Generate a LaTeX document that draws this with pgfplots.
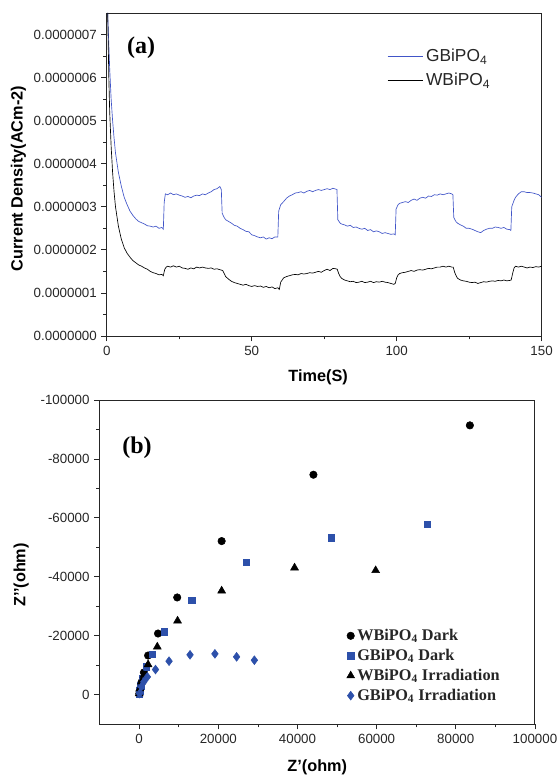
\documentclass[border=0pt]{standalone}
\usepackage{fontspec}
\setmainfont{Liberation Serif}
\setsansfont{Liberation Sans}
\usepackage{pgfplots}
\pgfplotsset{compat=1.18}
\definecolor{lineblue}{RGB}{65,85,200}
\definecolor{markblue}{RGB}{45,80,170}
\begin{document}
\begin{tikzpicture}
\useasboundingbox (0,0) rectangle (418.5pt,582.75pt);
\pgfplotsset{
  every axis/.append style={
    scale only axis,
    axis line style={line width=0.7pt, black!85},
    tick pos=left, tick align=outside,
    major tick length=4pt, minor tick length=2.5pt,
    every tick/.style={black!85, line width=0.6pt},
    tick label style={font=\sffamily\fontsize{10}{12}\selectfont, black!85},
    /pgf/number format/assume math mode=true,
    label style={font=\sffamily\bfseries\fontsize{12.2}{14}\selectfont},
  }
}
% ---------- panel (a)
\begin{axis}[
  at={(80.1pt,330.75pt)}, anchor=south west,
  width=326.1pt, height=242.25pt,
  xmin=0, xmax=150, ymin=0, ymax=7.5e-7,
  xtick={0,50,100,150}, minor x tick num=1,
  ytick={0,1e-7,2e-7,3e-7,4e-7,5e-7,6e-7,7e-7},
  yticklabels={0.0000000,0.0000001,0.0000002,0.0000003,0.0000004,0.0000005,0.0000006,0.0000007},
  scaled y ticks=false,
  minor y tick num=1,
  xlabel={Time(S)}, ylabel={Current Density(ACm-2)},
  xlabel style={at={(axis description cs:0.486,-0.127)}, anchor=center},
  ylabel style={at={(axis description cs:-0.203,0.487)}, anchor=center, rotate=0},
  legend style={draw=none, fill=none, at={(axis description cs:0.635,0.905)}, anchor=north west,
    font=\sffamily\fontsize{13}{15}\selectfont, row sep=3pt, text=black!85},
  legend cell align=left,
  legend image code/.code={\draw[#1] (0pt,0pt) -- (26.7pt,0pt);},
  clip=true,
]
\addplot[lineblue, line width=0.5pt] table {
t y
0.3 7.5e-7
1 6.2e-7
1.5 5.5e-7
2 5.0e-7
2.5 4.6e-7
3 4.25e-7
4 3.8e-7
5 3.48e-7
6 3.22e-7
7 3.05e-7
8 2.9e-7
9 2.8e-7
10 2.72e-7
11 2.66e-7
12 2.63e-7
13 2.6e-7
14 2.56e-7
15 2.55e-7
16 2.53e-7
17 2.55e-7
18 2.5e-7
19 2.52e-7
19.5 2.48e-7
19.8 3.1e-7
20.2 3.3e-7
21 3.28e-7
22 3.32e-7
23 3.28e-7
24 3.3e-7
25 3.27e-7
26 3.25e-7
27 3.22e-7
28 3.24e-7
29 3.21e-7
30 3.25e-7
31 3.27e-7
32 3.26e-7
33 3.3e-7
34 3.28e-7
35 3.32e-7
36 3.35e-7
37 3.4e-7
38 3.42e-7
39 3.47e-7
39.5 3.4e-7
39.8 2.85e-7
40.5 2.75e-7
41 2.7e-7
42 2.66e-7
43 2.62e-7
44 2.57e-7
45 2.55e-7
46 2.5e-7
47 2.47e-7
48 2.43e-7
49 2.42e-7
50 2.35e-7
51 2.33e-7
52 2.3e-7
53 2.28e-7
54 2.3e-7
55 2.25e-7
56 2.28e-7
57 2.26e-7
58 2.3e-7
59 2.3e-7
59.3 2.9e-7
60 3.05e-7
61 3.12e-7
62 3.2e-7
63 3.25e-7
64 3.28e-7
65 3.32e-7
66 3.33e-7
67 3.35e-7
68 3.32e-7
69 3.36e-7
70 3.38e-7
71 3.35e-7
72 3.38e-7
73 3.4e-7
74 3.38e-7
75 3.4e-7
76 3.42e-7
77 3.4e-7
78 3.43e-7
79 3.41e-7
79.4 3.4e-7
79.7 2.7e-7
80.5 2.62e-7
81 2.6e-7
82 2.58e-7
83 2.55e-7
84 2.57e-7
85 2.52e-7
86 2.53e-7
87 2.5e-7
88 2.48e-7
89 2.5e-7
90 2.45e-7
91 2.47e-7
92 2.42e-7
93 2.44e-7
94 2.42e-7
95 2.38e-7
96 2.4e-7
97 2.38e-7
98 2.36e-7
99 2.37e-7
99.5 2.35e-7
99.8 2.95e-7
100.5 3.05e-7
101 3.08e-7
102 3.1e-7
103 3.12e-7
104 3.1e-7
105 3.15e-7
106 3.18e-7
107 3.15e-7
108 3.2e-7
109 3.22e-7
110 3.2e-7
111 3.25e-7
112 3.24e-7
113 3.28e-7
114 3.27e-7
115 3.3e-7
116 3.28e-7
117 3.3e-7
118 3.32e-7
119 3.3e-7
119.4 3.28e-7
119.7 2.75e-7
120.5 2.65e-7
121 2.62e-7
122 2.58e-7
123 2.55e-7
124 2.5e-7
125 2.5e-7
126 2.48e-7
127 2.45e-7
128 2.42e-7
129 2.4e-7
130 2.45e-7
131 2.48e-7
132 2.5e-7
133 2.5e-7
134 2.53e-7
135 2.52e-7
136 2.5e-7
137 2.52e-7
138 2.48e-7
139 2.47e-7
139.4 2.45e-7
139.7 3.0e-7
140.5 3.15e-7
141 3.22e-7
142 3.3e-7
143 3.35e-7
144 3.35e-7
145 3.33e-7
146 3.33e-7
147 3.32e-7
148 3.3e-7
149 3.28e-7
150 3.22e-7
};
\addlegendentry{GBiPO\textsubscript{4}}
\addplot[black, line width=0.5pt] table {
t y
0.3 7.5e-7
0.7 6.0e-7
1 5.2e-7
1.5 4.4e-7
2 3.8e-7
2.5 3.35e-7
3 3.0e-7
4 2.55e-7
5 2.25e-7
6 2.05e-7
7 1.92e-7
8 1.83e-7
9 1.75e-7
10 1.7e-7
11 1.65e-7
12 1.62e-7
13 1.58e-7
14 1.55e-7
15 1.5e-7
16 1.47e-7
17 1.45e-7
18 1.42e-7
19 1.43e-7
19.5 1.4e-7
20 1.55e-7
20.5 1.6e-7
21 1.62e-7
22 1.6e-7
23 1.63e-7
24 1.6e-7
25 1.62e-7
26 1.58e-7
27 1.57e-7
28 1.55e-7
29 1.58e-7
30 1.56e-7
31 1.6e-7
32 1.58e-7
33 1.6e-7
34 1.58e-7
35 1.57e-7
36 1.58e-7
37 1.55e-7
38 1.56e-7
39 1.54e-7
40 1.52e-7
40.5 1.45e-7
41 1.38e-7
42 1.32e-7
43 1.27e-7
44 1.24e-7
45 1.22e-7
46 1.2e-7
47 1.18e-7
48 1.2e-7
49 1.17e-7
50 1.15e-7
51 1.17e-7
52 1.15e-7
53 1.16e-7
54 1.13e-7
55 1.15e-7
56 1.12e-7
57 1.14e-7
58 1.1e-7
59 1.12e-7
59.5 1.08e-7
60 1.25e-7
60.5 1.3e-7
61 1.35e-7
62 1.38e-7
63 1.4e-7
64 1.42e-7
65 1.43e-7
66 1.42e-7
67 1.45e-7
68 1.44e-7
69 1.45e-7
70 1.47e-7
71 1.46e-7
72 1.48e-7
73 1.5e-7
74 1.48e-7
75 1.52e-7
76 1.55e-7
77 1.52e-7
78 1.57e-7
79 1.56e-7
79.5 1.55e-7
80 1.45e-7
80.5 1.38e-7
81 1.34e-7
82 1.3e-7
83 1.28e-7
84 1.26e-7
85 1.27e-7
86 1.24e-7
87 1.25e-7
88 1.27e-7
89 1.24e-7
90 1.25e-7
91 1.27e-7
92 1.24e-7
93 1.26e-7
94 1.25e-7
95 1.27e-7
96 1.25e-7
97 1.24e-7
98 1.22e-7
99 1.2e-7
99.5 1.22e-7
100 1.35e-7
100.5 1.42e-7
101 1.45e-7
102 1.47e-7
103 1.48e-7
104 1.5e-7
105 1.52e-7
106 1.5e-7
107 1.53e-7
108 1.54e-7
109 1.53e-7
110 1.55e-7
111 1.57e-7
112 1.56e-7
113 1.58e-7
114 1.6e-7
115 1.6e-7
116 1.62e-7
117 1.6e-7
118 1.62e-7
119 1.6e-7
119.5 1.6e-7
120 1.48e-7
120.5 1.4e-7
121 1.34e-7
122 1.3e-7
123 1.28e-7
124 1.27e-7
125 1.25e-7
126 1.24e-7
127 1.25e-7
128 1.22e-7
129 1.24e-7
130 1.26e-7
131 1.25e-7
132 1.27e-7
133 1.28e-7
134 1.27e-7
135 1.29e-7
136 1.28e-7
137 1.3e-7
138 1.28e-7
139 1.29e-7
139.5 1.3e-7
140 1.45e-7
140.5 1.58e-7
141 1.62e-7
142 1.6e-7
143 1.62e-7
144 1.6e-7
145 1.58e-7
146 1.6e-7
147 1.59e-7
148 1.61e-7
149 1.6e-7
150 1.62e-7
};
\addlegendentry{WBiPO\textsubscript{4}}
\node[font=\rmfamily\bfseries\fontsize{18}{20}\selectfont] at (axis description cs:0.079,0.892) {(a)};
\end{axis}
% ---------- panel (b)
\begin{axis}[
  at={(74.7pt,39.75pt)}, anchor=south west,
  width=326.5pt, height=243pt,
  xmin=-10000, xmax=100000, ymin=-100000, ymax=10000,
  y dir=reverse,
  xtick={0,20000,40000,60000,80000,100000}, minor x tick num=1,
  ytick={-100000,-80000,-60000,-40000,-20000,0}, minor y tick num=1,
  scaled x ticks=false, scaled y ticks=false,
  /pgf/number format/fixed, /pgf/number format/1000 sep={},
  xlabel={Z’(ohm)}, ylabel={Z’’(ohm)},
  xlabel style={at={(axis description cs:0.5,-0.133)}, anchor=center},
  ylabel style={at={(axis description cs:-0.18,0.46)}, anchor=center, rotate=0},
  legend style={draw=none, fill=none, at={(axis description cs:0.558,0.31)}, anchor=north west,
    font=\rmfamily\bfseries\fontsize{12.2}{13.5}\selectfont, row sep=1pt, text=black!85,
    /tikz/every even column/.append style={column sep=1pt}},
  legend cell align=left,
  legend image code/.code={\draw[#1] plot coordinates {(0.2cm,0cm)};},
  clip=false,
]
\addplot[only marks, mark=*, mark size=2.8pt, black] coordinates {
(83560,-91390) (44030,-74630) (20840,-52100) (9610,-32960) (4760,-20720)
(2250,-13250) (1200,-7500) (600,-4200) (300,-2200) (120,-1000) (30,-300)
};
\addlegendentry{WBiPO\textsubscript{4} Dark}
\addplot[only marks, mark=square*, mark size=2.4pt, markblue] coordinates {
(72780,-57760) (48610,-53230) (27130,-44960) (13300,-32050) (6380,-21290)
(3320,-13700) (1800,-9400) (900,-5500) (400,-3000) (150,-1300) (30,-300)
};
\addlegendentry{GBiPO\textsubscript{4} Dark}
\addplot[only marks, mark=triangle*, mark size=3.4pt, black] coordinates {
(59750,-42130) (39260,-43040) (20840,-35220) (9700,-25030) (4580,-16200)
(2250,-10190) (1170,-6570) (540,-4300) (180,-2040) (0,-340)
};
\addlegendentry{WBiPO\textsubscript{4} Irradiation}
\addplot[only marks, mark=diamond*, mark size=3.3pt, markblue] coordinates {
(29110,-11660) (24620,-12800) (19140,-13820) (12850,-13480) (7550,-11330)
(4130,-8490) (2070,-6000) (1170,-4300) (540,-2600) (90,-340)
};
\addlegendentry{GBiPO\textsubscript{4} Irradiation}
\node[font=\rmfamily\bfseries\fontsize{18}{20}\selectfont] at (axis description cs:0.086,0.852) {(b)};
\end{axis}
\end{tikzpicture}
\end{document}
